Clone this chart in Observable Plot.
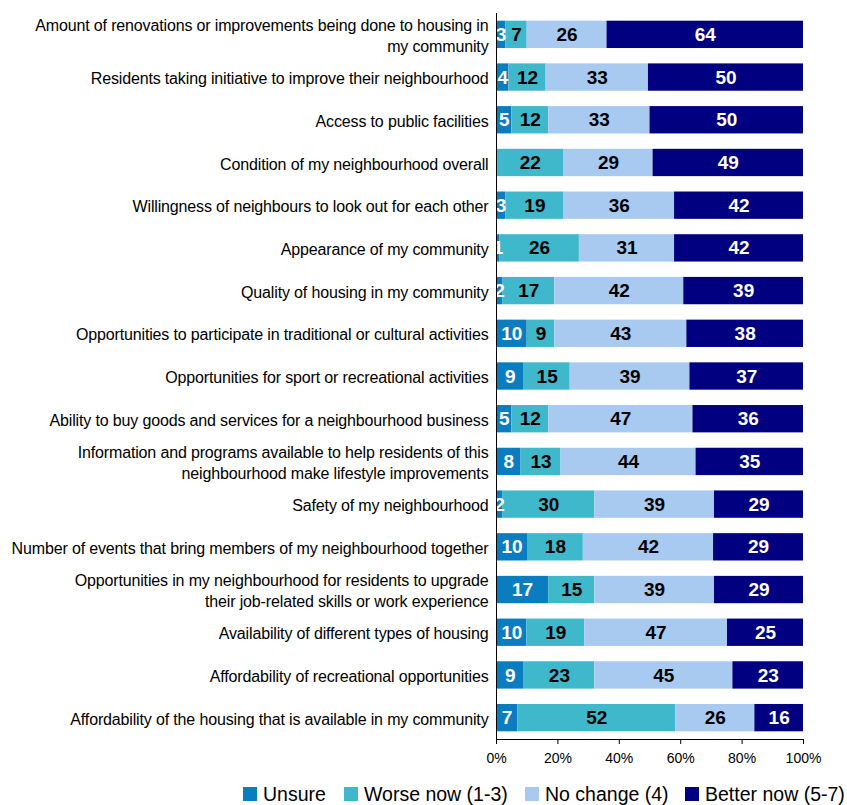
<!DOCTYPE html>
<html>
<head>
<meta charset="utf-8">
<script src="https://cdn.jsdelivr.net/npm/d3@7"></script>
<script src="https://cdn.jsdelivr.net/npm/@observablehq/plot@0.6"></script>
<style>
  body { margin: 0; background: #fff; font-family: "Liberation Sans", Arial, sans-serif; }
  #legend { position: relative; height: 30px; font-size: 19.5px; color: #000; }
  #legend .item { position: absolute; top: 0; height: 38px; display: flex; align-items: center; white-space: nowrap; }
  #legend .sw { width: 14px; height: 14px; margin-right: 6px; flex-shrink: 0; }
  .cat-label text { letter-spacing: -0.15px; }
</style>
</head>
<body>
<div id="chart"></div>
<div id="legend"></div>
<script>
const categories = [
  "Amount of renovations or improvements being done to housing in\nmy community",
  "Residents taking initiative to improve their neighbourhood",
  "Access to public facilities",
  "Condition of my neighbourhood overall",
  "Willingness of neighbours to look out for each other",
  "Appearance of my community",
  "Quality of housing in my community",
  "Opportunities to participate in traditional or cultural activities",
  "Opportunities for sport or recreational activities",
  "Ability to buy goods and services for a neighbourhood business",
  "Information and programs available to help residents of this\nneighbourhood make lifestyle improvements",
  "Safety of my neighbourhood",
  "Number of events that bring members of my neighbourhood together",
  "Opportunities in my neighbourhood for residents to upgrade\ntheir job-related skills or work experience",
  "Availability of different types of housing",
  "Affordability of recreational opportunities",
  "Affordability of the housing that is available in my community"
];
const seriesNames = ["Unsure", "Worse now (1-3)", "No change (4)", "Better now (5-7)"];
const unsure    = [3, 4, 5, 0, 3, 1, 2, 10, 9, 5, 8, 2, 10, 17, 10, 9, 7];
const worse     = [7, 12, 12, 22, 19, 26, 17, 9, 15, 12, 13, 30, 18, 15, 19, 23, 52];
const noChange  = [26, 33, 33, 29, 36, 31, 42, 43, 39, 47, 44, 39, 42, 39, 47, 45, 26];
const better    = [64, 50, 50, 49, 42, 42, 39, 38, 37, 36, 35, 29, 29, 29, 25, 23, 16];
const colors = ["#0a7dc0", "#3fb8cc", "#a8caf0", "#000080"];
const labelColors = ["#fff", "#000", "#000", "#fff"];
const xTicks = [0, 0.2, 0.4, 0.6, 0.8, 1];

const seriesValues = [unsure, worse, noChange, better];
const data = [];
categories.forEach((c, i) => {
  seriesNames.forEach((s, j) => {
    data.push({cat: c, key: s, value: seriesValues[j][i], labelColor: labelColors[j]});
  });
});

const stackOpts = {offset: "normalize", order: seriesNames};

const chart = Plot.plot({
  width: 847,
  height: 775,
  marginTop: 13,
  marginBottom: 36,
  marginLeft: 496,
  marginRight: 44,
  style: {fontFamily: "Liberation Sans, Arial, sans-serif", background: "#fff"},
  x: {domain: [0, 1]},
  y: {domain: categories, paddingInner: 0.36, paddingOuter: 0.18, round: false, axis: null},
  color: {domain: seriesNames, range: colors},
  marks: [
    Plot.barX(data, Plot.stackX({x: "value", y: "cat", z: "key", fill: "key", ...stackOpts})),
    Plot.text(data, Plot.stackX({
      x: "value", y: "cat", z: "key",
      text: d => d.value > 0 ? String(d.value) : "",
      fill: "labelColor",
      fontSize: 19, fontWeight: "bold",
      ...stackOpts
    })),
    Plot.text(categories, {
      x: 0, y: d => d, text: d => d,
      textAnchor: "end", dx: -8, fontSize: 16, lineHeight: 1.3, fill: "#000",
      className: "cat-label"
    }),
    Plot.frame({anchor: "left", stroke: "#000"}),
    Plot.frame({anchor: "bottom", stroke: "#000"}),
    Plot.axisX({ticks: xTicks, tickFormat: d => Math.round(d * 100) + "%", tickSize: 5, tickPadding: 9, fontSize: 14, label: null, stroke: "#000"})
  ]
});
document.getElementById("chart").appendChild(chart);

const legendLeft = [243, 344, 525, 685];
const legend = document.getElementById("legend");
seriesNames.forEach((s, j) => {
  const item = document.createElement("div");
  item.className = "item";
  item.style.left = legendLeft[j] + "px";
  const sw = document.createElement("div");
  sw.className = "sw";
  sw.style.background = colors[j];
  const t = document.createElement("span");
  t.textContent = s;
  item.appendChild(sw);
  item.appendChild(t);
  legend.appendChild(item);
});
</script>
</body>
</html>
